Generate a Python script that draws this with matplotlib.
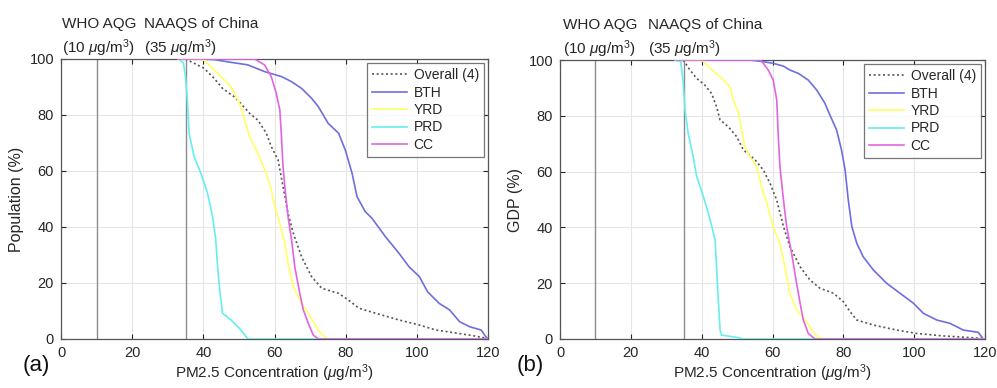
import matplotlib
matplotlib.use("Agg")
import matplotlib.pyplot as plt
import matplotlib.transforms as mtransforms

plt.rcParams['font.family'] = ['Liberation Sans', 'DejaVu Sans']
plt.rcParams['mathtext.fontset'] = 'custom'
plt.rcParams['mathtext.rm'] = 'Liberation Sans'
plt.rcParams['mathtext.it'] = 'Liberation Sans:italic'

# ---------------- data: panel (a) Population ----------------
pop_overall_x = [35, 40.2, 43.1, 45.4, 48.7, 50.6, 53, 55.3, 57.7, 59.1, 61, 62.4, 63.8, 65.3, 67.6, 70.4, 73.3, 78, 80.8, 83.7, 88.4, 95, 100.7, 105.4, 114.8, 120]
pop_overall_y = [100, 96.7, 93, 89.5, 86.5, 84, 80.6, 78.2, 73.5, 68.7, 64, 54.4, 45, 37.7, 29.4, 22.3, 18.1, 16.3, 13.9, 11, 9.2, 6.8, 5, 3.2, 1.4, 0.2]

pop_bth_x = [33, 39, 43, 46.8, 52.5, 57.2, 62, 64.8, 67.6, 70.4, 72.3, 75.1, 78, 79.9, 81.8, 83.2, 85.5, 87.4, 91.2, 95, 97.8, 100.7, 103, 106.3, 109.2, 112, 114.8, 118.1, 119.5, 120]
pop_bth_y = [100, 100, 99.8, 99, 97.9, 95.5, 93.7, 91.9, 89.5, 86, 83, 77, 73.5, 67.5, 59.2, 50.8, 45.5, 43.1, 36.5, 30.6, 25.8, 22.3, 16.9, 12.7, 10.4, 6.2, 4.4, 3.2, 0.6, 0]

pop_yrd_x = [33, 39.8, 40.2, 42.1, 45, 47.8, 49.2, 50.6, 51.6, 53, 55.3, 57.7, 59.1, 60.1, 61.5, 62.9, 63.8, 65.3, 67.6, 69.5, 70.9, 72.3, 74.2, 75.2, 120]
pop_yrd_y = [100, 100, 99.5, 97.3, 93.7, 90.1, 86.5, 83, 78.2, 72.3, 66.3, 59.2, 53.2, 47.3, 41.3, 34.2, 27, 18.7, 12.7, 9.2, 6.2, 3.2, 0.6, 0, 0]

pop_prd_x = [33.1, 34.4, 35, 35.5, 36, 37.4, 39.3, 41.2, 42.6, 43.5, 44, 44.7, 45.4, 47.8, 50.6, 52.5, 120]
pop_prd_y = [100, 98.5, 93.7, 85.4, 73.5, 65.1, 59.2, 52, 43.7, 35.4, 25.8, 16.3, 9.2, 6.8, 3.2, 0, 0]

pop_cc_x = [33, 54.4, 57.2, 59.1, 60.5, 61.5, 61.9, 62.4, 62.9, 63.8, 64.8, 65.7, 67.1, 68.1, 69.5, 70.9, 72.3, 120]
pop_cc_y = [100, 100, 97.9, 93.7, 87.7, 81.8, 73.5, 61.5, 54.4, 43.7, 35.4, 25.8, 16.3, 10.4, 5.6, 1.4, 0, 0]

# ---------------- data: panel (b) GDP ----------------
gdp_overall_x = [34.8, 36.7, 38.6, 40.9, 42.8, 44.2, 45.2, 47.5, 49.9, 51.8, 53.6, 55.1, 57.4, 59.3, 61.2, 63.1, 64.9, 67.8, 70.6, 73.4, 77.2, 80, 81.9, 83.8, 88.5, 95.1, 100.7, 108.2, 119.5]
gdp_overall_y = [100, 96.4, 93.4, 91, 88, 83.3, 78.5, 76.1, 72.5, 67.7, 65.9, 64.2, 60.6, 55.8, 49.8, 40.3, 33.1, 25.9, 21.1, 18.2, 16.4, 13.4, 9.8, 6.8, 5, 3.2, 2, 1.1, 0.2]

gdp_bth_x = [33, 53.6, 57.4, 60.2, 63.1, 64.9, 67.3, 70.1, 72.5, 74.8, 76.2, 78.1, 79.5, 80.5, 81.4, 82.4, 83.8, 85.6, 88.5, 92.2, 96, 99.8, 102.6, 106.4, 110.1, 113.9, 118.1, 119.5, 120]
gdp_bth_y = [100, 100, 99.4, 98.8, 97.8, 96.4, 95.2, 92.8, 89.2, 84.5, 80.3, 74.9, 67.7, 60.6, 49.8, 40.3, 34.3, 29.5, 24.7, 20, 16.4, 12.8, 9.2, 6.8, 5.6, 3.2, 2.4, 0, 0]

gdp_yrd_x = [33, 40, 42.4, 45.2, 48, 48.9, 50.4, 51.3, 52.2, 53.6, 55.5, 56.9, 58.4, 60.2, 62.1, 63.5, 64.9, 66.8, 69.2, 71.1, 72.9, 74.8, 120]
gdp_yrd_y = [100, 100, 97, 94, 90.4, 85.7, 80.9, 74.9, 68.9, 65.4, 61.8, 54.6, 48.6, 40.3, 34.3, 25.9, 16.4, 10.4, 6.8, 3.2, 0.6, 0, 0]

gdp_prd_x = [32.5, 34.1, 34.8, 35.3, 36.2, 37.6, 38.6, 40.5, 42.4, 43.8, 44.2, 44.7, 45.2, 45.6, 49.9, 51.8, 120]
gdp_prd_y = [100, 99.4, 91.6, 82, 73.7, 65.4, 58.2, 51, 42.7, 35.5, 25.9, 14, 3.2, 1.4, 0.6, 0, 0]

gdp_cc_x = [33, 56.5, 57.4, 58.8, 60.2, 61.2, 61.6, 62.1, 63.1, 64, 65.4, 66.8, 67.8, 68.7, 70.1, 72, 120]
gdp_cc_y = [100, 100, 98.8, 96.4, 92.8, 85.7, 73.7, 61.8, 49.8, 40.3, 30.7, 20, 12.8, 6.8, 2, 0, 0]

series_names = ['Overall (4)', 'BTH', 'YRD', 'PRD', 'CC']
x_ticks = [0, 20, 40, 60, 80, 100, 120]
y_ticks = [0, 20, 40, 60, 80, 100]
ref_lines = [10, 35]
ylabels = ['Population (%)', 'GDP (%)']
panel_tags = ['(a)', '(b)']

colors = ['#555555', '#6e6ee0', '#ffff66', '#66eeee', '#e066e0']

panels = [
    [(pop_overall_x, pop_overall_y), (pop_bth_x, pop_bth_y), (pop_yrd_x, pop_yrd_y),
     (pop_prd_x, pop_prd_y), (pop_cc_x, pop_cc_y)],
    [(gdp_overall_x, gdp_overall_y), (gdp_bth_x, gdp_bth_y), (gdp_yrd_x, gdp_yrd_y),
     (gdp_prd_x, gdp_prd_y), (gdp_cc_x, gdp_cc_y)],
]

W, H = 997, 388
fig = plt.figure(figsize=(W / 100, H / 100), dpi=100)

axes_px = [(61, 59, 427, 280), (560, 60, 425, 279)]
label_x = [(0.3, 23.4), (0.8, 24.8)]
tag_x = [36, 530]
text_col = '#262626'

for i, (l, t, w, h) in enumerate(axes_px):
    ax = fig.add_axes([l / W, (H - t - h) / H, w / W, h / H])
    ax.set_xlim(0, 120)
    ax.set_ylim(0, 100)
    ax.grid(True, color='#e6e6e6', linewidth=0.8)
    ax.set_axisbelow(True)
    for v in ref_lines:
        ax.axvline(v, color='#8c8c8c', linewidth=1.0, zorder=1.5)
    for k, (xs, ys) in enumerate(panels[i]):
        ls = (0, (1.2, 1.6)) if k == 0 else '-'
        ax.plot(xs, ys, color=colors[k], linestyle=ls, linewidth=1.2,
                label=series_names[k], zorder=3 + k)
    ax.set_xticks(x_ticks)
    ax.set_yticks(y_ticks)
    ax.tick_params(direction='in', top=True, right=True, length=3.5,
                   labelsize=10.5, colors=text_col, pad=5)
    for s in ax.spines.values():
        s.set_color('#555555')
        s.set_linewidth(0.9)
    ax.set_ylabel(ylabels[i], fontsize=11.5, color=text_col, labelpad=4)
    ax.set_xlabel(r'PM2.5 Concentration ($\mu$g/m$^3$)', fontsize=11,
                  color=text_col, labelpad=2)
    leg = ax.legend(loc='upper right', fontsize=10, frameon=True, fancybox=False,
                    edgecolor='#555555', handlelength=2.5, handletextpad=0.5,
                    borderaxespad=0.3, labelspacing=0.25, borderpad=0.35)
    leg.get_frame().set_linewidth(0.9)
    for txt in leg.get_texts():
        txt.set_color(text_col)

    trans = mtransforms.blended_transform_factory(ax.transData, ax.transAxes)
    ax.text(label_x[i][0], 1.125, 'WHO AQG', transform=trans, fontsize=11,
            color=text_col, ha='left', va='center')
    ax.text(label_x[i][0], 1.04, r'(10 $\mu$g/m$^3$)', transform=trans, fontsize=11,
            color=text_col, ha='left', va='center')
    ax.text(label_x[i][1], 1.125, 'NAAQS of China', transform=trans, fontsize=11,
            color=text_col, ha='left', va='center')
    ax.text(label_x[i][1], 1.04, r'(35 $\mu$g/m$^3$)', transform=trans, fontsize=11,
            color=text_col, ha='left', va='center')

    fig.text(tag_x[i] / W, 1 - 366 / H, panel_tags[i], fontsize=16,
             color='#111111', ha='center', va='center')

fig.savefig('out.png', dpi=100)
